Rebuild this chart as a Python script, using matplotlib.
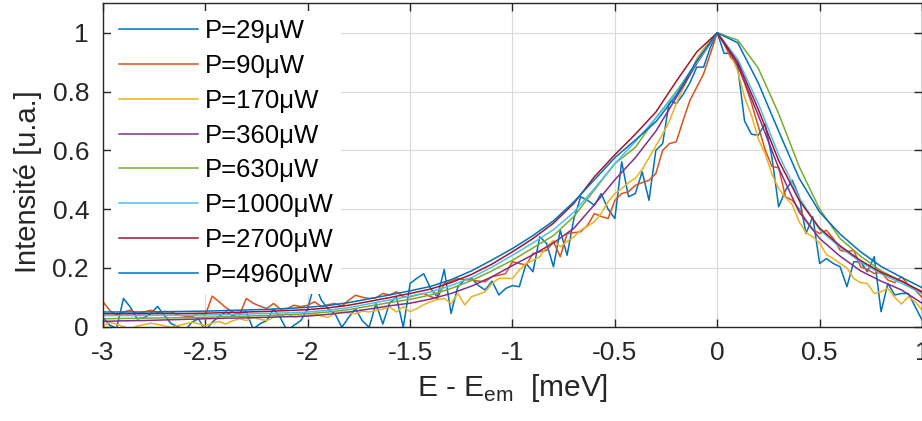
import numpy as np
import matplotlib
matplotlib.use("Agg")
import matplotlib.pyplot as plt

plt.rcParams["font.family"] = ["Liberation Sans", "DejaVu Sans"]
plt.rcParams["mathtext.fontset"] = "custom"
plt.rcParams["mathtext.rm"] = "Liberation Sans"
plt.rcParams["axes.unicode_minus"] = False

# sampling grids (meV): fine grid for the noisy low-power spectra, coarse for the smooth ones
X_FINE = np.linspace(-3, 1, 121)
X_COARSE = np.linspace(-3, 1, 41)

LABELS = ["P=29μW", "P=90μW", "P=170μW", "P=360μW",
          "P=630μW", "P=1000μW", "P=2700μW", "P=4960μW"]
COLORS = ["#0072BD", "#D95319", "#EDB120", "#7E2F8E",
          "#77AC30", "#4DBEEE", "#A2142F", "#0072BD"]

P29 = [0.032, 0.005, -0.005, 0.096, 0.067, 0.027, 0.030, 0.045, 0.069, 0.038,
       0.010, 0.000, -0.014, 0.015, 0.027, -0.014, 0.015, 0.035, 0.050, 0.038,
       0.045, 0.050, -0.008, 0.010, 0.021, 0.061, 0.030, -0.014, 0.005, 0.021,
       0.061, 0.148, 0.090, 0.060, 0.044, -0.002, 0.032, 0.061, 0.020, -0.002,
       0.079, 0.009, 0.081, 0.100, -0.002, 0.147, 0.165, 0.180, 0.130, 0.102,
       0.195, 0.045, 0.136, 0.160, 0.165, 0.140, 0.125, 0.155, 0.108, 0.130,
       0.140, 0.136, 0.215, 0.187, 0.306, 0.283, 0.204, 0.328, 0.243, 0.368,
       0.442, 0.430, 0.413, 0.453, 0.400, 0.368, 0.561, 0.442, 0.453, 0.527,
       0.430, 0.600, 0.623, 0.770, 0.759, 0.790, 0.830, 0.883, 0.883, 0.951,
       1.000, 0.930, 0.930, 0.883, 0.700, 0.655, 0.651, 0.690, 0.578, 0.408,
       0.464, 0.498, 0.442, 0.317, 0.374, 0.215, 0.232, 0.215, 0.204, 0.136,
       0.221, 0.221, 0.187, 0.238, 0.051, 0.147, 0.108, 0.113, 0.113, 0.068,
       0.023]

P90 = [0.085, 0.055, 0.040, 0.050, 0.056, 0.045, 0.050, 0.056, 0.048, 0.052,
       0.050, 0.040, 0.036, 0.034, 0.045, 0.040, 0.104, 0.085, 0.065, 0.050,
       0.040, 0.096, 0.080, 0.070, 0.062, 0.079, 0.060, 0.062, 0.073, 0.068,
       0.073, 0.085, 0.068, 0.075, 0.079, 0.070, 0.090, 0.107, 0.100, 0.096,
       0.098, 0.113, 0.108, 0.119, 0.102, 0.102, 0.108, 0.113, 0.102, 0.096,
       0.147, 0.155, 0.164, 0.160, 0.159, 0.155, 0.153, 0.170, 0.175, 0.181,
       0.221, 0.215, 0.210, 0.249, 0.255, 0.260, 0.289, 0.238, 0.317, 0.320,
       0.323, 0.345, 0.385, 0.375, 0.368, 0.430, 0.453, 0.459, 0.481, 0.490,
       0.498, 0.521, 0.600, 0.623, 0.629, 0.702, 0.770, 0.815, 0.860, 0.929,
       1.000, 0.963, 0.915, 0.890, 0.830, 0.762, 0.683, 0.603, 0.546, 0.540,
       0.442, 0.430, 0.400, 0.362, 0.330, 0.317, 0.328, 0.300, 0.260, 0.255,
       0.260, 0.204, 0.195, 0.181, 0.185, 0.159, 0.150, 0.170, 0.142, 0.125,
       0.100]

P170 = [0.003, 0.015, 0.008, 0.000, -0.008, 0.002, 0.007, 0.012, 0.008, 0.003,
        -0.002, 0.004, 0.009, 0.015, 0.010, 0.003, 0.012, 0.018, 0.009, 0.020,
        0.027, 0.021, 0.032, 0.025, 0.021, 0.032, 0.038, 0.044, 0.032, 0.035,
        0.038, 0.044, 0.036, 0.032, 0.045, 0.050, 0.047, 0.044, 0.053, 0.050,
        0.055, 0.060, 0.067, 0.050, 0.068, 0.051, 0.062, 0.075, 0.085, 0.092,
        0.096, 0.079, 0.113, 0.074, 0.102, 0.110, 0.119, 0.147, 0.164, 0.165,
        0.164, 0.193, 0.215, 0.226, 0.238, 0.272, 0.294, 0.272, 0.290, 0.306,
        0.328, 0.342, 0.357, 0.385, 0.425, 0.453, 0.470, 0.490, 0.505, 0.535,
        0.575, 0.615, 0.655, 0.700, 0.760, 0.810, 0.860, 0.912, 0.945, 0.975,
        1.000, 0.970, 0.925, 0.870, 0.780, 0.720, 0.640, 0.590, 0.520, 0.470,
        0.440, 0.415, 0.357, 0.320, 0.306, 0.285, 0.245, 0.232, 0.215, 0.200,
        0.164, 0.150, 0.147, 0.113, 0.119, 0.130, 0.100, 0.077, 0.102, 0.085,
        0.057]

P360 = [0.018, 0.020, 0.021, 0.023, 0.025, 0.027, 0.029, 0.030, 0.032, 0.034,
        0.036, 0.042, 0.050, 0.060, 0.071, 0.080, 0.094, 0.113, 0.138, 0.170,
        0.208, 0.245, 0.285, 0.335, 0.415, 0.500, 0.575, 0.665, 0.780, 0.895,
        1.000, 0.890, 0.720, 0.540, 0.390, 0.300, 0.240, 0.190, 0.155, 0.125,
        0.080]

P630 = [0.027, 0.028, 0.029, 0.030, 0.031, 0.032, 0.034, 0.036, 0.038, 0.041,
        0.044, 0.050, 0.058, 0.070, 0.082, 0.093, 0.108, 0.130, 0.157, 0.190,
        0.226, 0.268, 0.310, 0.375, 0.465, 0.555, 0.610, 0.710, 0.800, 0.900,
        1.000, 0.975, 0.880, 0.725, 0.545, 0.400, 0.300, 0.240, 0.190, 0.155,
        0.120]

P1000 = [0.038, 0.038, 0.038, 0.039, 0.039, 0.040, 0.041, 0.043, 0.045, 0.047,
         0.050, 0.056, 0.065, 0.078, 0.091, 0.104, 0.118, 0.140, 0.167, 0.203,
         0.243, 0.285, 0.330, 0.390, 0.470, 0.555, 0.630, 0.710, 0.795, 0.900,
         1.000, 0.910, 0.760, 0.585, 0.440, 0.330, 0.270, 0.220, 0.180, 0.148,
         0.113]

P2700 = [0.044, 0.044, 0.044, 0.045, 0.045, 0.046, 0.048, 0.050, 0.052, 0.055,
         0.058, 0.064, 0.073, 0.086, 0.099, 0.113, 0.128, 0.150, 0.178, 0.213,
         0.255, 0.300, 0.352, 0.420, 0.510, 0.585, 0.655, 0.730, 0.835, 0.935,
         1.000, 0.900, 0.740, 0.565, 0.430, 0.335, 0.275, 0.225, 0.185, 0.155,
         0.118]

P4960 = [0.050, 0.050, 0.050, 0.051, 0.052, 0.053, 0.055, 0.057, 0.059, 0.062,
         0.066, 0.072, 0.082, 0.095, 0.108, 0.122, 0.137, 0.160, 0.190, 0.227,
         0.266, 0.310, 0.360, 0.425, 0.500, 0.575, 0.635, 0.697, 0.787, 0.905,
         1.000, 0.966, 0.830, 0.665, 0.505, 0.390, 0.315, 0.255, 0.205, 0.168,
         0.133]

SPECTRA = [(X_FINE, P29), (X_FINE, P90), (X_FINE, P170), (X_COARSE, P360),
           (X_COARSE, P630), (X_COARSE, P1000), (X_COARSE, P2700), (X_COARSE, P4960)]

XTICKS = [-3, -2.5, -2, -1.5, -1, -0.5, 0, 0.5, 1]
XTICKLABELS = ["-3", "-2.5", "-2", "-1.5", "-1", "-0.5", "0", "0.5", "1"]
YTICKS = [0, 0.2, 0.4, 0.6, 0.8, 1]
YTICKLABELS = ["0", "0.2", "0.4", "0.6", "0.8", "1"]

AX_COLOR = "#262626"

fig = plt.figure(figsize=(9.22, 4.21), dpi=100)
ax = fig.add_axes([0.1117, 0.224, 0.8883, 0.768])

for (x, y), lab, col in zip(SPECTRA, LABELS, COLORS):
    ax.plot(x, y, color=col, linewidth=1.1, label=lab)

ax.set_xlim(-3, 1)
ax.set_ylim(0, 1.1)
ax.set_xticks(XTICKS)
ax.set_xticklabels(XTICKLABELS)
ax.set_yticks(YTICKS)
ax.set_yticklabels(YTICKLABELS)

ax.grid(True, color="#dadada", linewidth=0.8)
ax.set_axisbelow(True)
for s in ax.spines.values():
    s.set_color(AX_COLOR)
    s.set_linewidth(1.0)
ax.tick_params(direction="in", length=6, width=1.0, color=AX_COLOR,
               top=True, right=True, labelsize=19, labelcolor=AX_COLOR)
ax.tick_params(axis="y", pad=10)
ax.tick_params(axis="x", pad=10)

ax.set_xlabel(r"E - E$_{\mathrm{em}}$  [meV]", fontsize=21.5, color=AX_COLOR,
              labelpad=5)
ax.set_ylabel("Intensité [u.a.]", fontsize=21, color=AX_COLOR)
ax.yaxis.set_label_coords(-0.075, 0.45)

leg = ax.legend(loc="upper left", bbox_to_anchor=(0.01, 0.975), borderaxespad=0,
                fontsize=18.5, handlelength=3.07, handletextpad=0.27,
                labelspacing=0.42, borderpad=0.3, frameon=True, fancybox=False)
leg.get_frame().set_facecolor("white")
leg.get_frame().set_edgecolor("none")
leg.get_frame().set_alpha(1)

fig.savefig("out.png", dpi=100)
